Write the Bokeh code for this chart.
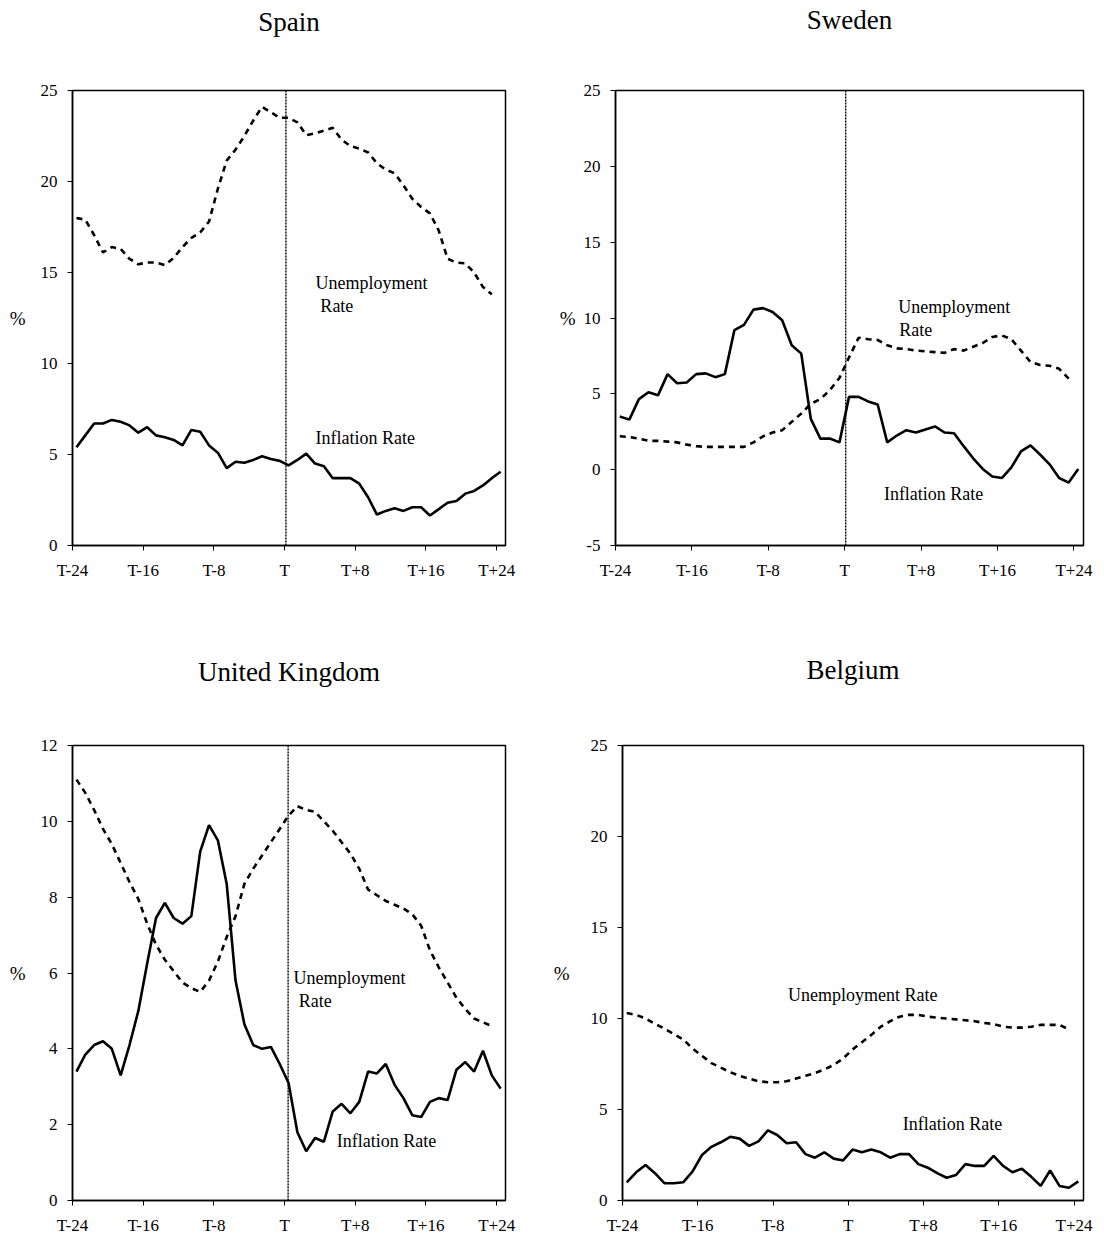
from bokeh.plotting import figure
from bokeh.layouts import column, row
from bokeh.models import Range1d, FixedTicker, SingleIntervalTicker, Span, Label, Title
from bokeh.embed import file_html
from bokeh.resources import INLINE

# ---------------- data ----------------
months = list(range(-24, 25))
tick_positions = [-24, -16, -8, 0, 8, 16, 24]
tick_labels = ["T-24", "T-16", "T-8", "T", "T+8", "T+16", "T+24"]

spain_inflation = [5.4, 6.05, 6.7, 6.7, 6.9, 6.8, 6.6, 6.2, 6.5, 6.05, 5.95, 5.8, 5.5,
                   6.35, 6.25, 5.5, 5.1, 4.25, 4.6, 4.55, 4.7, 4.9, 4.75, 4.65, 4.4,
                   4.7, 5.05, 4.5, 4.35, 3.7, 3.7, 3.7, 3.4, 2.65, 1.7, 1.9, 2.05, 1.9,
                   2.1, 2.1, 1.65, 2.0, 2.35, 2.45, 2.85, 3.0, 3.3, 3.7, 4.05]
spain_unemployment = [18.0, 17.9, 17.05, 16.1, 16.4, 16.3, 15.75, 15.45, 15.55, 15.55,
                      15.4, 15.8, 16.4, 16.9, 17.2, 17.8, 19.6, 21.15, 21.75, 22.5,
                      23.35, 24.1, 23.8, 23.5, 23.5, 23.25, 22.55, 22.65, 22.8, 22.95,
                      22.3, 21.95, 21.8, 21.6, 21.0, 20.65, 20.45, 19.8, 19.05, 18.6,
                      18.25, 17.3, 15.75, 15.55, 15.5, 15.0, 14.2, 13.8]

sweden_inflation = [3.5, 3.3, 4.65, 5.1, 4.9, 6.3, 5.7, 5.75, 6.3, 6.35, 6.1, 6.3, 9.2,
                    9.55, 10.55, 10.65, 10.4, 9.85, 8.2, 7.65, 3.35, 2.05, 2.05, 1.8,
                    4.8, 4.8, 4.5, 4.3, 1.8, 2.25, 2.6, 2.45, 2.65, 2.85, 2.45, 2.4,
                    1.55, 0.75, 0.05, -0.45, -0.55, 0.15, 1.2, 1.6, 1.0, 0.35, -0.55,
                    -0.85, 0.05]
sweden_unemployment = [2.2, 2.15, 2.05, 1.9, 1.9, 1.85, 1.8, 1.65, 1.55, 1.5, 1.5, 1.5,
                       1.5, 1.5, 1.8, 2.2, 2.45, 2.6, 3.15, 3.7, 4.35, 4.65, 5.25, 6.05,
                       7.4, 8.7, 8.6, 8.55, 8.2, 8.0, 7.95, 7.85, 7.8, 7.75, 7.7, 7.95,
                       7.85, 8.1, 8.35, 8.75, 8.85, 8.6, 7.85, 7.1, 6.9, 6.85, 6.65, 6.0]

uk_inflation = [3.4, 3.85, 4.1, 4.2, 4.0, 3.3, 4.1, 5.0, 6.25, 7.45, 7.85, 7.45, 7.3,
                7.5, 9.2, 9.9, 9.5, 8.35, 5.8, 4.65, 4.1, 4.0, 4.05, 3.6, 3.1, 1.8,
                1.3, 1.65, 1.55, 2.35, 2.55, 2.3, 2.6, 3.4, 3.35, 3.6, 3.05, 2.7,
                2.25, 2.2, 2.6, 2.7, 2.65, 3.45, 3.65, 3.4, 3.95, 3.3, 2.95]
uk_unemployment = [11.1, 10.75, 10.3, 9.8, 9.4, 8.9, 8.4, 7.95, 7.3, 6.75, 6.35, 6.05,
                   5.75, 5.6, 5.5, 5.8, 6.3, 6.95, 7.5, 8.35, 8.75, 9.1, 9.45, 9.8,
                   10.15, 10.4, 10.3, 10.25, 10.0, 9.75, 9.45, 9.15, 8.75, 8.2, 8.05,
                   7.9, 7.8, 7.7, 7.55, 7.25, 6.6, 6.15, 5.75, 5.35, 5.05, 4.8, 4.7, 4.6]

belgium_inflation = [1.0, 1.55, 1.95, 1.5, 0.95, 0.95, 1.0, 1.6, 2.5, 2.95, 3.2, 3.5,
                     3.4, 3.0, 3.25, 3.85, 3.6, 3.15, 3.2, 2.55, 2.35, 2.65, 2.3, 2.2,
                     2.8, 2.65, 2.8, 2.65, 2.35, 2.55, 2.55, 2.0, 1.8, 1.5, 1.25, 1.4,
                     2.0, 1.9, 1.9, 2.45, 1.9, 1.55, 1.75, 1.3, 0.8, 1.65, 0.8, 0.7, 1.05]
belgium_unemployment = [10.3, 10.2, 10.0, 9.7, 9.45, 9.15, 8.85, 8.35, 7.95, 7.55, 7.3,
                        7.05, 6.85, 6.7, 6.55, 6.5, 6.5, 6.55, 6.7, 6.85, 7.0, 7.2, 7.45,
                        7.8, 8.3, 8.7, 9.1, 9.55, 9.85, 10.1, 10.2, 10.2, 10.1, 10.05,
                        10.0, 9.95, 9.9, 9.85, 9.75, 9.7, 9.55, 9.5, 9.5, 9.55, 9.65,
                        9.65, 9.65, 9.4]

FONT = "Liberation Serif"
POINT_OFFSET = 0.45  # observations sit between tick marks


def panel(title, infl, unemp, yr, yint, width, height, borders, title_gap,
          label_standoff, t_line, labels):
    p = figure(width=width, height=height, output_backend="svg", toolbar_location=None,
               title=None,
               x_range=Range1d(-24, 25), y_range=Range1d(*yr),
               min_border_left=borders[0], min_border_right=borders[1],
               min_border_top=borders[2], min_border_bottom=borders[3])
    # spacer between frame and title, then the visible title above it
    p.add_layout(Title(text=" ", text_font_size="1px", standoff=title_gap), "above")
    p.add_layout(Title(text=title, text_font=FONT, text_font_size="27px",
                       text_font_style="normal", text_color="black", align="center",
                       vertical_align="bottom", standoff=4), "above")
    p.grid.visible = False
    p.outline_line_color = "black"
    p.outline_line_width = 1.5
    p.background_fill_color = "white"
    p.border_fill_color = "white"

    p.xaxis.ticker = FixedTicker(ticks=tick_positions, minor_ticks=[])
    p.xaxis.major_label_overrides = {t: l for t, l in zip(tick_positions, tick_labels)}
    p.yaxis.ticker = SingleIntervalTicker(interval=yint, num_minor_ticks=0)
    p.yaxis.major_label_overrides = {-5: "-5"}
    for ax in (p.xaxis, p.yaxis):
        ax.axis_line_color = "black"
        ax.axis_line_width = 1.5
        ax.major_tick_in = 0
        ax.major_tick_out = 5
        ax.major_tick_line_color = "black"
        ax.minor_tick_line_color = None
        ax.major_label_text_font = FONT
        ax.major_label_text_font_size = "17px"
        ax.major_label_text_color = "black"
        ax.major_label_standoff = 10
    p.yaxis.axis_label = "%"
    p.yaxis.axis_label_orientation = "horizontal"
    p.yaxis.axis_label_text_font = FONT
    p.yaxis.axis_label_text_font_size = "19px"
    p.yaxis.axis_label_text_font_style = "normal"
    p.yaxis.axis_label_text_color = "black"
    p.yaxis.axis_label_standoff = label_standoff

    if t_line is not None:
        p.add_layout(Span(location=t_line, dimension="height", line_color="black",
                          line_width=1.4, line_dash="2 1"))

    xs_i = [m + POINT_OFFSET for m in months[:len(infl)]]
    xs_u = [m + POINT_OFFSET for m in months[:len(unemp)]]
    p.line(xs_u, unemp, line_color="black", line_width=2.6, line_dash="6 5")
    p.line(xs_i, infl, line_color="black", line_width=2.6)

    for (lx, ly, txt) in labels:
        p.add_layout(Label(x=lx, y=ly, text=txt, text_font=FONT, text_font_size="18px",
                           text_color="black", text_baseline="middle"))
    return p


spain = panel("Spain", spain_inflation, spain_unemployment, (0, 25), 5, 552, 640,
              (72, 47, 88, 95), 49, 12, 0.15,
              [(3.5, 14.4, "Unemployment"), (4.05, 13.15, "Rate"),
               (3.5, 5.9, "Inflation Rate")])
sweden = panel("Sweden", sweden_inflation, sweden_unemployment, (-5, 25), 5, 552, 640,
               (63, 21, 88, 95), 51, 5, 0.1,
               [(5.6, 10.7, "Unemployment"), (5.7, 9.2, "Rate"),
                (4.1, -1.6, "Inflation Rate")])
uk = panel("United Kingdom", uk_inflation, uk_unemployment, (0, 12), 2, 548, 600,
           (72, 43, 105, 40), 54, 12, 0.4,
           [(1.0, 5.87, "Unemployment"), (1.6, 5.26, "Rate"),
            (5.9, 1.58, "Inflation Rate")])
belgium = panel("Belgium", belgium_inflation, belgium_unemployment, (0, 25), 5, 556, 600,
                (74, 21, 105, 40), 56, 18, None,
                [(-6.4, 11.3, "Unemployment Rate"), (5.8, 4.2, "Inflation Rate")])

layout = column(row(spain, sweden), row(uk, belgium))
open("out.html", "w").write(file_html(layout, INLINE))
